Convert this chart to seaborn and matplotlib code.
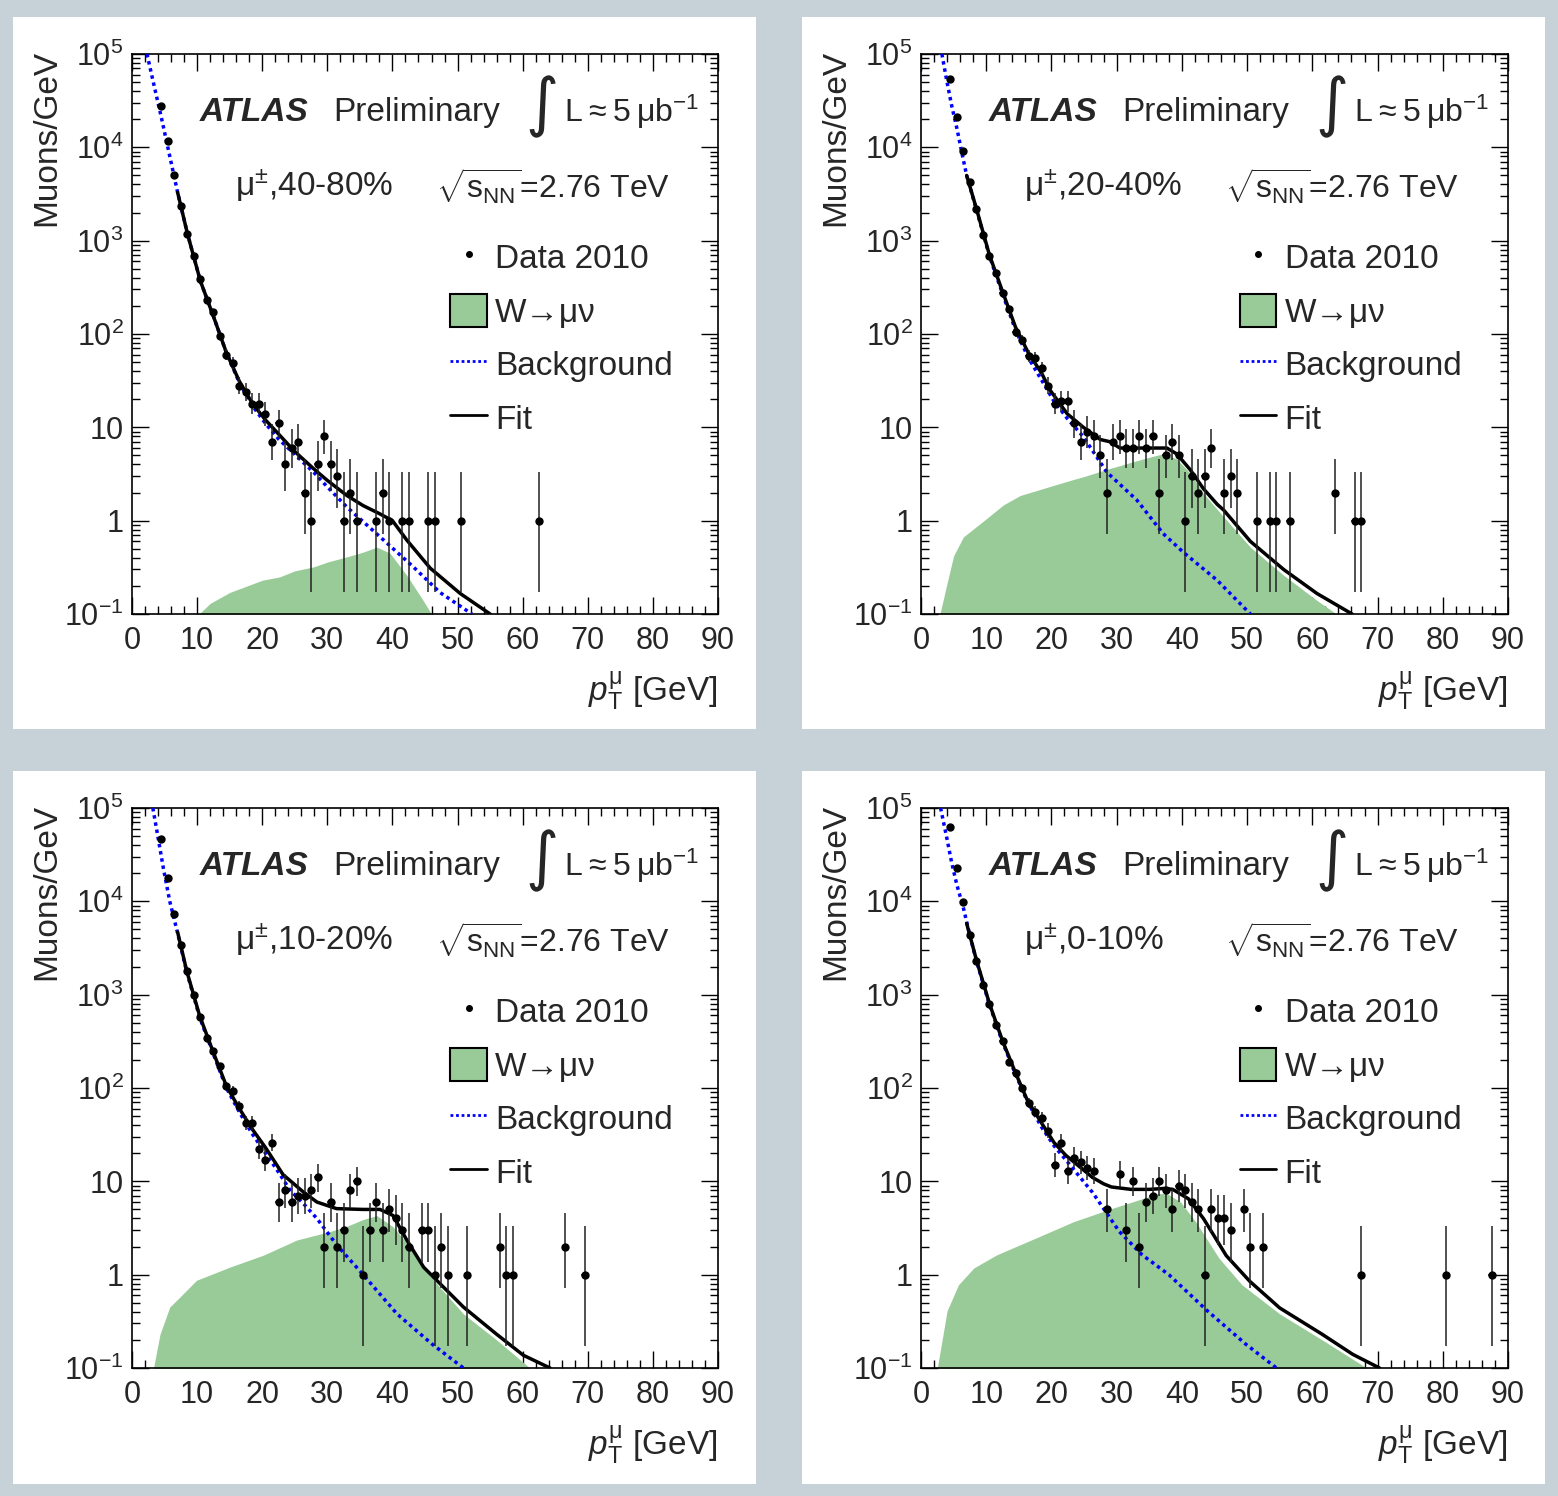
import numpy as np
import matplotlib
matplotlib.use("Agg")
import matplotlib.pyplot as plt
import seaborn as sns
from matplotlib.patches import Rectangle, Patch
from matplotlib.lines import Line2D
from matplotlib.ticker import MultipleLocator, LogLocator, NullFormatter

# ------------------------------------------------------------------ data
centralities = ["40-80%", "20-40%", "10-20%", "0-10%"]

# panel 1 : 40-80 %
d1_pt = [4.5, 5.5, 6.5, 7.5, 8.5, 9.5, 10.5, 11.5, 12.5, 13.5, 14.5, 15.5, 16.5, 17.5,
         18.5, 19.5, 20.5, 21.5, 22.5, 23.5, 24.5, 25.5, 26.5, 27.5, 28.5, 29.5, 30.5,
         31.5, 32.5, 33.5, 34.5, 37.5, 38.5, 39.5, 41.5, 42.5, 45.5, 46.5, 50.5, 62.5]
d1_n = [28000, 11700, 5100, 2350, 1180, 690, 390, 230, 170, 95, 60, 49, 28, 24,
        18, 18, 14, 7, 11, 4, 6, 7, 2, 1, 4, 8, 4,
        3, 1, 2, 1, 1, 2, 1, 1, 1, 1, 1, 1, 1]
w1_pt = [10.3, 12.0, 15.0, 20.0, 22.7, 25.0, 27.9, 30.0, 33.0, 35.5, 37.6, 39.6, 42.2, 44.7, 46.0]
w1_y = [0.1, 0.13, 0.17, 0.23, 0.25, 0.29, 0.32, 0.36, 0.41, 0.46, 0.52, 0.45, 0.26, 0.14, 0.1]
bkg1_pt = [2.3, 3.3, 4.5, 5.6, 7.0, 8.5, 10.5, 12.5, 14.5, 16.5, 18.5, 20.5, 22.5, 24.3,
           27.9, 30.0, 33.0, 38.0, 43.2, 47.3, 52.2]
bkg1_y = [1e5, 4.9e4, 2.1e4, 9300, 3300, 1200, 370, 155, 63, 30, 17, 11, 7.5, 5.7,
          3.3, 2.3, 1.4, 0.68, 0.32, 0.17, 0.1]
fit1_pt = [7.0, 8.5, 10.5, 12.5, 14.5, 16.5, 18.5, 20.5, 22.7, 25.0, 27.9, 30.0, 33.0,
           35.5, 38.0, 40.0, 42.2, 45.8, 50.4, 55.0]
fit1_y = [3300, 1200, 370, 155, 63, 31, 18, 12, 8.2, 5.5, 3.6, 2.7, 1.86,
          1.45, 1.19, 1.0, 0.62, 0.31, 0.166, 0.1]

# panel 2 : 20-40 %
d2_pt = [4.5, 5.5, 6.5, 7.5, 8.5, 9.5, 10.5, 11.5, 12.5, 13.5, 14.5, 15.5, 16.5, 17.5,
         18.5, 19.5, 20.5, 21.5, 22.5, 23.5, 24.5, 25.5, 26.5, 27.5, 28.5, 29.5, 30.5,
         31.5, 32.5, 33.5, 34.5, 35.5, 36.5, 37.5, 38.5, 39.5, 40.5, 41.5, 42.5, 43.5,
         44.5, 46.5, 47.5, 48.5, 51.5, 53.5, 54.5, 56.5, 63.5, 66.5, 67.5]
d2_n = [54000, 21000, 9100, 4200, 2200, 1150, 690, 450, 275, 186, 104, 87, 58, 55,
        43, 28, 18, 19, 19, 11, 7, 9, 8, 5, 2, 7, 8,
        6, 6, 8, 6, 8, 2, 5, 7, 5, 1, 3, 2, 3,
        6, 2, 3, 2, 1, 1, 1, 1, 2, 1, 1]
w2_pt = [2.9, 3.9, 5.0, 6.5, 8.0, 10.1, 12.6, 15.2, 17.7, 20.0, 22.9, 25.2, 28.5, 30.0,
         31.6, 34.6, 37.1, 39.2, 41.3, 43.3, 46.4, 50.5, 55.6, 60.7, 63.7]
w2_y = [0.1, 0.2, 0.42, 0.67, 0.81, 1.06, 1.47, 1.86, 2.1, 2.35, 2.7, 3.0, 3.55, 3.8,
        4.1, 4.7, 5.2, 4.6, 3.2, 1.96, 1.1, 0.52, 0.26, 0.14, 0.1]
bkg2_pt = [3.2, 3.9, 4.7, 5.5, 6.3, 7.0, 8.5, 10.5, 12.5, 14.5, 16.5, 18.5, 20.3, 22.4,
           24.9, 28.5, 33.1, 37.1, 40.2, 45.4, 50.5]
bkg2_y = [1e5, 5.4e4, 2.8e4, 1.6e4, 8500, 5000, 2150, 680, 270, 110, 55, 32, 19.5, 12.5,
          7.9, 3.3, 1.66, 0.73, 0.46, 0.23, 0.1]
fit2_pt = [7.0, 8.5, 10.5, 12.5, 14.5, 16.5, 18.5, 19.8, 22.4, 24.9, 27.5, 29.0, 30.5,
           33.0, 36.6, 37.7, 39.2, 41.3, 43.3, 45.4, 46.4, 50.5, 55.6, 60.7, 66.1]
fit2_y = [5000, 2200, 700, 285, 118, 62, 38, 25, 14, 10, 7.4, 7.0, 6.0,
          6.0, 6.0, 6.0, 5.2, 3.5, 2.2, 1.5, 1.3, 0.6, 0.30, 0.166, 0.1]

# panel 3 : 10-20 %
d3_pt = [4.5, 5.5, 6.5, 7.5, 8.5, 9.5, 10.5, 11.5, 12.5, 13.5, 14.5, 15.5, 16.5, 17.5,
         18.5, 19.5, 20.5, 21.5, 22.5, 23.5, 24.5, 25.5, 26.5, 27.5, 28.5, 29.5, 30.5,
         31.5, 32.5, 33.5, 34.5, 35.5, 36.5, 37.5, 38.5, 39.5, 40.5, 41.5, 42.5, 44.5,
         45.5, 46.5, 47.5, 48.5, 51.5, 56.5, 57.5, 58.5, 66.5, 69.5]
d3_n = [46000, 18000, 7300, 3400, 1800, 1000, 580, 340, 250, 170, 105, 94, 64, 42,
        42, 22, 17, 26, 6, 8, 6, 7, 7, 8, 11, 2, 6,
        2, 3, 8, 10, 1, 3, 6, 3, 5, 4, 3, 2, 3,
        3, 1, 2, 1, 1, 2, 1, 1, 2, 1]
w3_pt = [3.3, 4.3, 5.8, 7.4, 9.9, 15.1, 20.2, 25.3, 30.4, 33.0, 35.5, 37.6, 40.1,
         42.7, 45.8, 50.9, 56.0, 61.1]
w3_y = [0.1, 0.23, 0.45, 0.58, 0.87, 1.21, 1.62, 2.35, 2.9, 3.3, 3.9, 4.3, 3.25,
        2.0, 0.96, 0.38, 0.2, 0.1]
bkg3_pt = [3.2, 3.8, 4.8, 5.8, 6.9, 8.4, 10.4, 12.5, 14.5, 16.5, 18.5, 20.5, 22.2,
           24.3, 26.3, 28.4, 31.4, 35.5, 40.7, 46.1, 50.9]
bkg3_y = [1e5, 5.8e4, 2.3e4, 1e4, 4900, 1750, 570, 230, 100, 55, 32, 20, 13.5,
          8, 5.8, 4.0, 2.1, 1.0, 0.38, 0.18, 0.1]
fit3_pt = [7.0, 8.4, 10.4, 12.5, 14.5, 16.5, 18.5, 20.5, 23.2, 26.3, 28.4, 31.4, 35.5,
           38.1, 40.1, 42.2, 44.8, 47.8, 50.9, 56.0, 60.1, 64.2]
fit3_y = [4700, 1800, 590, 240, 105, 60, 36, 23, 11.8, 7.7, 6.0, 5.1, 5.0,
          5.0, 4.3, 2.35, 1.2, 0.74, 0.45, 0.23, 0.137, 0.1]

# panel 4 : 0-10 %
d4_pt = [4.5, 5.5, 6.5, 7.5, 8.5, 9.5, 10.5, 11.5, 12.5, 13.5, 14.5, 15.5, 16.5, 17.5,
         18.5, 19.5, 20.5, 21.5, 22.5, 23.5, 24.5, 25.5, 26.5, 28.5, 30.5, 31.5, 32.5,
         33.5, 34.5, 35.5, 36.5, 37.5, 38.5, 39.5, 40.5, 41.5, 42.5, 43.5, 44.5, 45.5,
         46.5, 47.5, 49.5, 50.5, 52.5, 67.5, 80.5, 87.5]
d4_n = [62000, 23000, 9800, 4400, 2300, 1260, 800, 470, 320, 192, 145, 100, 69, 56,
        48, 35, 15, 26, 13, 18, 16, 14, 13, 5, 12, 3, 10,
        2, 6, 7, 10, 8, 5, 9, 8, 6, 5, 1, 5, 4,
        4, 3, 5, 2, 2, 1, 1, 1]
w4_pt = [2.5, 4.0, 5.75, 8.1, 11.6, 17.5, 23.4, 29.2, 33.9, 36.3, 37.7, 39.8, 42.1,
         45.7, 49.2, 55.0, 61.5, 67.4, 68.3]
w4_y = [0.1, 0.41, 0.78, 1.18, 1.63, 2.45, 3.7, 5.1, 6.5, 7.4, 7.4, 6.0, 3.7,
        1.5, 0.78, 0.38, 0.2, 0.11, 0.1]
bkg4_pt = [3.0, 3.9, 4.7, 5.5, 6.5, 7.5, 8.5, 10.5, 12.5, 14.5, 16.3, 18.5, 20.4, 22.2,
           26.3, 30.4, 33.9, 38.0, 43.9, 49.8, 54.5]
bkg4_y = [1e5, 5e4, 2.6e4, 1.5e4, 8500, 4300, 2300, 780, 310, 140, 72, 38, 24, 17,
          7.6, 2.9, 1.63, 1.0, 0.41, 0.18, 0.1]
fit4_pt = [7.0, 8.5, 10.5, 12.5, 14.5, 16.3, 18.5, 20.4, 22.2, 24.5, 26.3, 28.0, 29.2,
           32.2, 35.0, 37.4, 38.6, 41.0, 43.3, 46.8, 50.4, 55.0, 61.5, 66.2, 70.3]
fit4_y = [5800, 2350, 800, 320, 145, 74, 42, 26, 19, 14, 11, 9.4, 8.7,
          8.2, 8.2, 8.4, 8.2, 6.5, 4.0, 1.6, 0.85, 0.44, 0.23, 0.14, 0.1]

ytick_vals = [0.1, 1, 10, 100, 1e3, 1e4, 1e5]
ytick_labels = [r"$10^{-1}$", "1", "10", r"$10^{2}$", r"$10^{3}$", r"$10^{4}$", r"$10^{5}$"]
xtick_vals = [0, 10, 20, 30, 40, 50, 60, 70, 80, 90]

# ------------------------------------------------------------------ style
sns.set_style("ticks")
plt.rcParams["font.family"] = ["Liberation Sans", "DejaVu Sans"]
plt.rcParams["mathtext.fontset"] = "custom"
plt.rcParams["mathtext.rm"] = "Liberation Sans"
plt.rcParams["mathtext.it"] = "Liberation Sans:italic"
plt.rcParams["mathtext.bf"] = "Liberation Sans:bold"
plt.rcParams["mathtext.sf"] = "Liberation Sans"

GREEN = "#99cb98"
BGCOL = "#c6d1d8"


def poisson_err(n):
    n = np.asarray(n, float)
    lo = n * (1 - 1 / (9 * n) - 1 / (3 * np.sqrt(n))) ** 3
    hi = (n + 1) * (1 - 1 / (9 * (n + 1)) + 1 / (3 * np.sqrt(n + 1))) ** 3
    return n - lo, hi - n


W, H = 1558, 1496
fig = plt.figure(figsize=(W / 100, H / 100), dpi=100, facecolor=BGCOL)

# white panel frames (pixel boxes: left, top, right, bottom)
frames = [(13, 17, 756, 729), (802, 17, 1545, 729), (13, 771, 756, 1484), (802, 771, 1545, 1484)]
for (l, t, r, b) in frames:
    fig.patches.append(Rectangle((l / W, 1 - b / H), (r - l) / W, (b - t) / H,
                                 transform=fig.transFigure, facecolor="white",
                                 edgecolor="none", zorder=-10))

axes_px = [(132, 54, 718, 614), (921, 54, 1508, 614), (132, 808, 718, 1368), (921, 808, 1508, 1368)]

panels = [
    (d1_pt, d1_n, w1_pt, w1_y, bkg1_pt, bkg1_y, fit1_pt, fit1_y),
    (d2_pt, d2_n, w2_pt, w2_y, bkg2_pt, bkg2_y, fit2_pt, fit2_y),
    (d3_pt, d3_n, w3_pt, w3_y, bkg3_pt, bkg3_y, fit3_pt, fit3_y),
    (d4_pt, d4_n, w4_pt, w4_y, bkg4_pt, bkg4_y, fit4_pt, fit4_y),
]

for i, ((l, t, r, b), data, cent) in enumerate(zip(axes_px, panels, centralities)):
    d_pt, d_n, w_pt, w_y, bk_pt, bk_y, f_pt, f_y = data
    ax = fig.add_axes([l / W, 1 - b / H, (r - l) / W, (b - t) / H])
    ax.set_zorder(5)
    ax.set_facecolor("white")
    ax.set_yscale("log")
    ax.set_xlim(0, 90)
    ax.set_ylim(0.1, 1e5)

    ax.fill_between(w_pt, 0.01, w_y, color=GREEN, linewidth=0, zorder=1)
    sns.lineplot(x=bk_pt, y=bk_y, ax=ax, color="#0000ff", linewidth=2.5,
                 linestyle=(0, (1, 1.1)), estimator=None, sort=False, zorder=3)
    sns.lineplot(x=f_pt, y=f_y, ax=ax, color="black", linewidth=2.5,
                 estimator=None, sort=False, zorder=4)
    lo, hi = poisson_err(d_n)
    ax.errorbar(d_pt, d_n, yerr=[lo, hi], xerr=0.5, fmt="o", ms=5, color="black",
                ecolor="#222222", elinewidth=1.1, capsize=0, zorder=5)

    # axes styling
    for sp in ax.spines.values():
        sp.set_visible(True)
        sp.set_linewidth(1.2)
        sp.set_color("black")
    ax.set_xticks(xtick_vals)
    ax.set_xticklabels([str(v) for v in xtick_vals])
    ax.xaxis.set_minor_locator(MultipleLocator(2))
    ax.set_yticks(ytick_vals)
    ax.set_yticklabels(ytick_labels)
    ax.yaxis.set_minor_locator(LogLocator(base=10, subs=np.arange(2, 10), numticks=20))
    ax.yaxis.set_minor_formatter(NullFormatter())
    ax.tick_params(which="both", direction="in", top=True, right=True, width=1.0, color="black")
    ax.tick_params(which="major", length=12)
    ax.tick_params(which="minor", length=5.5)
    ax.tick_params(axis="x", labelsize=22, pad=8.5)
    ax.tick_params(axis="y", labelsize=22, pad=6)

    ax.set_ylabel("Muons/GeV", fontsize=24, loc="top")
    ax.yaxis.set_label_coords(-0.119, 1.007)
    ax.set_xlabel(r"$p_{\mathrm{T}}^{\mathrm{\mu}}$ [GeV]", fontsize=24, loc="right")
    ax.xaxis.set_label_coords(1.0, -0.1)

    # annotations
    tk = dict(transform=ax.transAxes, va="center", ha="left")
    ax.text(0.116, 0.896, "ATLAS", fontsize=24, fontweight="bold", fontstyle="italic", **tk)
    ax.text(0.343, 0.896, "Preliminary", fontsize=24, **tk)
    ax.text(0.700, 0.905, "\u222b", fontsize=46, family=["DejaVu Sans"],
            transform=ax.transAxes, va="center", ha="center")
    ax.text(0.737, 0.896, "L\u2009\u2248\u20095\u2009\u03bcb$^{\\mathregular{-1}}$", fontsize=23, **tk)
    ax.text(0.176, 0.764, "\u03bc$^{\\pm}$,%s" % cent, fontsize=24, **tk)
    ax.text(0.518, 0.764, r"$\sqrt{\mathrm{s}_{\mathrm{NN}}}$=2.76 TeV", fontsize=23, **tk)

    handles = [
        Line2D([], [], marker="o", ls="none", color="black", ms=4),
        Patch(facecolor=GREEN, edgecolor="black", linewidth=1.5),
        Line2D([], [], color="#0000ff", ls=(0, (1, 1)), lw=2),
        Line2D([], [], color="black", lw=2),
    ]
    labels = ["Data 2010", "W\u2192\u03bc\u03bd", "Background", "Fit"]
    ax.legend(handles, labels, loc="upper left", bbox_to_anchor=(0.543, 0.667),
              frameon=False, fontsize=24, handlelength=1.1, handleheight=1.15,
              handletextpad=0.25, labelspacing=0.56, borderaxespad=0, borderpad=0)

fig.savefig("out.png", dpi=100, facecolor=BGCOL)
